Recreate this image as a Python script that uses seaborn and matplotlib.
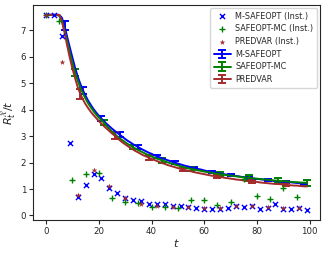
import numpy as np
import pandas as pd
import seaborn as sns
import matplotlib
matplotlib.use("Agg")
import matplotlib.pyplot as plt

# ---------------- data ----------------
t_line = list(range(100))

msafeopt_mean = [7.58, 7.58, 7.58, 7.58, 7.58, 7.58, 7.47, 7.16, 6.75, 6.35,
                 5.96, 5.58, 5.25, 4.97, 4.73, 4.52, 4.33, 4.17, 4.02, 3.89,
                 3.77, 3.66, 3.56, 3.46, 3.37, 3.28, 3.20, 3.12, 3.05, 2.97,
                 2.89, 2.82, 2.76, 2.69, 2.64, 2.58, 2.52, 2.47, 2.42, 2.37,
                 2.33, 2.28, 2.24, 2.20, 2.16, 2.13, 2.09, 2.06, 2.02, 1.99,
                 1.96, 1.93, 1.90, 1.87, 1.85, 1.82, 1.80, 1.77, 1.75, 1.73,
                 1.70, 1.68, 1.66, 1.64, 1.62, 1.61, 1.59, 1.57, 1.55, 1.54,
                 1.52, 1.51, 1.49, 1.48, 1.46, 1.45, 1.43, 1.42, 1.41, 1.39,
                 1.38, 1.37, 1.36, 1.35, 1.34, 1.33, 1.31, 1.30, 1.29, 1.28,
                 1.27, 1.26, 1.26, 1.25, 1.24, 1.23, 1.22, 1.21, 1.20, 1.20]

safeoptmc_mean = [7.58, 7.58, 7.58, 7.58, 7.58, 7.54, 7.36, 7.00, 6.58, 6.15,
                  5.75, 5.40, 5.10, 4.83, 4.61, 4.41, 4.23, 4.08, 3.94, 3.81,
                  3.70, 3.60, 3.50, 3.38, 3.27, 3.17, 3.08, 2.99, 2.91, 2.84,
                  2.77, 2.70, 2.64, 2.58, 2.52, 2.47, 2.42, 2.37, 2.32, 2.27,
                  2.23, 2.19, 2.15, 2.12, 2.08, 2.05, 2.01, 1.98, 1.95, 1.92,
                  1.89, 1.86, 1.83, 1.81, 1.78, 1.76, 1.74, 1.72, 1.70, 1.68,
                  1.66, 1.64, 1.63, 1.61, 1.59, 1.58, 1.56, 1.55, 1.53, 1.52,
                  1.51, 1.49, 1.48, 1.47, 1.45, 1.44, 1.43, 1.42, 1.41, 1.40,
                  1.39, 1.38, 1.37, 1.36, 1.35, 1.34, 1.33, 1.32, 1.31, 1.30,
                  1.30, 1.29, 1.28, 1.27, 1.26, 1.26, 1.25, 1.24, 1.24, 1.23]

predvar_mean = [7.58, 7.58, 7.58, 7.58, 7.58, 7.58, 7.33, 6.91, 6.42, 5.96,
                5.55, 5.19, 4.85, 4.59, 4.38, 4.20, 4.05, 3.91, 3.79, 3.68,
                3.57, 3.47, 3.37, 3.28, 3.19, 3.10, 3.02, 2.93, 2.84, 2.76,
                2.69, 2.62, 2.55, 2.49, 2.43, 2.38, 2.32, 2.27, 2.23, 2.18,
                2.14, 2.10, 2.06, 2.02, 1.98, 1.95, 1.91, 1.88, 1.85, 1.82,
                1.79, 1.76, 1.74, 1.71, 1.69, 1.67, 1.64, 1.62, 1.60, 1.58,
                1.56, 1.54, 1.52, 1.50, 1.49, 1.47, 1.45, 1.44, 1.42, 1.41,
                1.39, 1.38, 1.36, 1.35, 1.34, 1.32, 1.31, 1.30, 1.29, 1.28,
                1.27, 1.25, 1.24, 1.23, 1.22, 1.21, 1.20, 1.19, 1.19, 1.18,
                1.17, 1.16, 1.15, 1.14, 1.13, 1.13, 1.12, 1.11, 1.10, 1.10]

# error bars (only where drawn)
msafeopt_err_t = [7, 14, 21, 28, 35, 42, 49, 56, 63, 70, 77, 84, 91, 98]
msafeopt_err = [0.17, 0.13, 0.10, 0.09, 0.07, 0.06, 0.05, 0.05, 0.04, 0.04,
                0.04, 0.04, 0.04, 0.04]
safeoptmc_err_t = [11, 22, 33, 44, 55, 66, 77, 88, 99]
safeoptmc_err = [0.12, 0.10, 0.08, 0.08, 0.08, 0.08, 0.10, 0.10, 0.10]
predvar_err_t = [13, 26, 39, 52, 65, 78, 91]
predvar_err = [0.19, 0.13, 0.10, 0.07, 0.06, 0.06, 0.06]

# instantaneous values
msafeopt_inst_t = [0, 3, 6, 9, 12, 15, 18, 21, 24, 27, 30, 33, 36, 39, 42, 45, 48,
                   51, 54, 57, 60, 63, 66, 69, 72, 75, 78, 81, 84, 87, 90, 93, 96, 99]
msafeopt_inst = [7.58, 7.58, 6.78, 2.75, 0.70, 1.16, 1.56, 1.43, 1.05, 0.84,
                 0.66, 0.59, 0.56, 0.43, 0.43, 0.42, 0.36, 0.37, 0.33, 0.28,
                 0.26, 0.24, 0.25, 0.29, 0.35, 0.33, 0.34, 0.25, 0.29, 0.44,
                 0.26, 0.25, 0.28, 0.20]
safeoptmc_inst_t = [0, 5, 10, 15, 20, 25, 30, 35, 40, 45, 50, 55, 60, 65, 70, 75,
                    80, 85, 90, 95]
safeoptmc_inst = [7.58, 7.36, 1.34, 1.56, 1.60, 0.67, 0.50, 0.47, 0.32, 0.31,
                  0.28, 0.58, 0.59, 0.38, 0.52, 1.38, 0.72, 0.62, 1.05, 0.70]
predvar_inst_t = [0, 6, 12, 18, 24, 30, 36, 42, 48, 54, 60, 66, 72, 78, 84, 90, 96]
predvar_inst = [7.58, 5.80, 0.79, 1.70, 1.13, 0.65, 0.45, 0.37, 0.33, 0.33,
                0.30, 0.28, 0.36, 0.36, 0.32, 0.27, 0.28]

# ---------------- plot ----------------
sns.set_style("ticks")
plt.rcParams['font.family'] = ['DejaVu Sans']

fig = plt.figure(figsize=(3.27, 2.54), dpi=100)
ax = fig.add_axes([0.101, 0.134, 0.878, 0.846])

sns.scatterplot(x=msafeopt_inst_t, y=msafeopt_inst, marker='x', color='blue',
                s=14, linewidth=1.0, label='M-SAFEOPT (Inst.)', ax=ax, zorder=3)
sns.scatterplot(x=safeoptmc_inst_t, y=safeoptmc_inst, marker='+', color='green',
                s=16, linewidth=1.0, label='SAFEOPT-MC (Inst.)', ax=ax, zorder=3)
sns.scatterplot(x=predvar_inst_t, y=predvar_inst, marker='*', color='brown',
                s=18, linewidth=0, label='PREDVAR (Inst.)', ax=ax, zorder=3)


def full_err(err_t, err):
    d = dict(zip(err_t, err))
    return [d.get(t, 0.0) for t in t_line]


for mean, et, ev, col, lab in [
        (msafeopt_mean, msafeopt_err_t, msafeopt_err, 'blue', 'M-SAFEOPT'),
        (safeoptmc_mean, safeoptmc_err_t, safeoptmc_err, 'green', 'SAFEOPT-MC'),
        (predvar_mean, predvar_err_t, predvar_err, 'brown', 'PREDVAR')]:
    step = et[1] - et[0]
    ax.errorbar(t_line, mean, yerr=full_err(et, ev), color=col, lw=1.4,
                elinewidth=1.4, capsize=3, capthick=1.4,
                errorevery=(et[0], step), label=lab, zorder=2)

ax.set_xlabel('$t$', fontsize=8, labelpad=1)
ax.set_ylabel(r'$R_t^{\mathcal{X}}/t$', fontsize=8, labelpad=2)
ax.tick_params(labelsize=6.2, length=3, width=0.8, pad=2)
ax.set_xticks([0, 20, 40, 60, 80, 100])
ax.set_yticks(range(8))
for s in ax.spines.values():
    s.set_linewidth(0.8)
    s.set_visible(True)

ax.legend(loc='upper right', fontsize=5.9, frameon=True, handlelength=2.0,
          borderpad=0.45, labelspacing=0.45, handletextpad=0.6,
          borderaxespad=0.35)

fig.savefig('out.png', dpi=100)
